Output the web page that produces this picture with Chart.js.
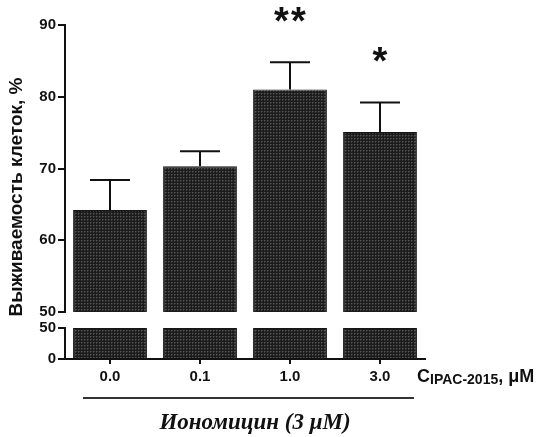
<!DOCTYPE html>
<html>
<head>
<meta charset="utf-8">
<script src="https://cdn.jsdelivr.net/npm/chart.js@4"></script>
<style>
html,body{margin:0;padding:0;background:#fff}
</style>
</head>
<body>
<canvas id="viab" width="548" height="437"></canvas>
<script>
// dose of IPAC-2015 on the x axis, viability (%) +/- error
const doses = ['0.0', '0.1', '1.0', '3.0'];
const viability = [64.2, 70.3, 81.0, 75.1];
const sem = [4.2, 2.1, 3.8, 4.1];
const signif = ['', '', '**', '*'];
const upperRange = [50, 90];
const lowerRange = [0, 50];
const yTitle = 'Выживаемость клеток, %';
const groupLabel = 'Иономицин (3 μM)';

const ink = '#111';
const tickFont = {family: 'Liberation Sans', weight: 'bold', size: 15};

// dark dotted fill for bars
function dotPattern(){
    const c = document.createElement('canvas');
    c.width = 3; c.height = 3;
    const g = c.getContext('2d');
    g.fillStyle = '#1c1c1c';
    g.fillRect(0, 0, 3, 3);
    g.fillStyle = '#3a3a3a';
    g.fillRect(0, 0, 2, 1);
    g.fillRect(0, 1, 1, 1);
    g.fillStyle = '#555';
    g.fillRect(0, 0, 1, 1);
    return g.createPattern(c, 'repeat');
}
const fill = dotPattern();

const extras = {
    id: 'extras',
    afterDatasetsDraw(chart){
        const ctx = chart.ctx;
        const y = chart.scales.y;
        const area = chart.chartArea;
        const meta = chart.getDatasetMeta(0);
        ctx.save();
        ctx.strokeStyle = ink;
        ctx.fillStyle = ink;
        ctx.lineWidth = 2;
        meta.data.forEach((bar, i) => {
            const top = y.getPixelForValue(viability[i] + sem[i]);
            ctx.beginPath();
            ctx.moveTo(bar.x, bar.y);
            ctx.lineTo(bar.x, top);
            ctx.moveTo(bar.x - 20, top);
            ctx.lineTo(bar.x + 20, top);
            ctx.stroke();
            // significance stars
            const n = signif[i].length;
            ctx.font = 'bold 38px "Liberation Sans"';
            ctx.textAlign = 'center';
            ctx.textBaseline = 'alphabetic';
            for (let k = 0; k < n; k++) {
                ctx.fillText('*', bar.x + (k - (n - 1) / 2) * 17, top - 28);
            }
        });

        // y title
        ctx.save();
        ctx.translate(17, (area.top + area.bottom) / 2 + 5);
        ctx.rotate(-Math.PI / 2);
        ctx.font = 'bold 19px "Liberation Sans"';
        ctx.textAlign = 'center';
        ctx.textBaseline = 'middle';
        ctx.fillText(yTitle, 0, 0);
        ctx.restore();

        // x title with subscript
        let x = area.right - 8;
        const base = area.bottom + 23;
        ctx.textAlign = 'left';
        ctx.textBaseline = 'alphabetic';
        ctx.font = 'bold 18px "Liberation Sans"';
        ctx.fillText('C', x, base);
        x += ctx.measureText('C').width;
        ctx.font = 'bold 14px "Liberation Sans"';
        ctx.fillText('IPAC-2015', x, base + 2);
        x += ctx.measureText('IPAC-2015').width;
        ctx.font = 'bold 18px "Liberation Sans"';
        ctx.fillText(', μM', x, base);

        // bracket under the groups
        ctx.strokeStyle = '#333';
        ctx.beginPath();
        ctx.moveTo(area.left + 18, area.bottom + 39);
        ctx.lineTo(area.right - 11, area.bottom + 39);
        ctx.stroke();

        ctx.font = 'italic bold 23px "Liberation Serif"';
        ctx.textAlign = 'center';
        ctx.fillText(groupLabel, (area.left + area.right) / 2 + 10, area.bottom + 70);
        ctx.restore();
    }
};

const barStyle = {
    backgroundColor: fill,
    borderColor: '#151515',
    borderWidth: 1,
    barPercentage: 0.82,
    categoryPercentage: 1
};

new Chart(document.getElementById('viab'), {
    type: 'bar',
    data: {
        labels: doses,
        datasets: [
            Object.assign({data: viability, yAxisID: 'y'}, barStyle),
            Object.assign({data: viability.map(v => Math.min(v, lowerRange[1])), yAxisID: 'yLow'}, barStyle)
        ]
    },
    options: {
        responsive: false,
        animation: false,
        datasets: {bar: {grouped: false}},
        layout: {padding: {top: 25, right: 123, left: 0, bottom: 0}},
        plugins: {legend: {display: false}, tooltip: {enabled: false}},
        scales: {
            x: {
                offset: true,
                grid: {offset: false, drawOnChartArea: false, tickLength: 5, color: ink, lineWidth: 2},
                border: {color: ink, width: 2},
                ticks: {color: ink, font: tickFont, padding: 4},
                afterFit(s){ s.height = 78; }
            },
            y: {
                position: 'left', stack: 'v', stackWeight: 287, weight: 3,
                min: upperRange[0], max: upperRange[1],
                ticks: {stepSize: 10, autoSkip: false, color: ink, font: tickFont, padding: 2},
                grid: {drawOnChartArea: false, tickLength: 7, color: ink, lineWidth: 2},
                border: {color: ink, width: 2},
                afterFit(s){ s.width = 65; }
            },
            yGap: {
                position: 'left', stack: 'v', stackWeight: 16, weight: 2,
                display: false
            },
            yLow: {
                position: 'left', stack: 'v', stackWeight: 31, weight: 1,
                min: lowerRange[0], max: lowerRange[1],
                ticks: {stepSize: 50, autoSkip: false, color: ink, font: tickFont, padding: 2},
                grid: {drawOnChartArea: false, tickLength: 7, color: ink, lineWidth: 2},
                border: {color: ink, width: 2},
                afterFit(s){ s.width = 65; }
            }
        }
    },
    plugins: [extras]
});
</script>
</body>
</html>
